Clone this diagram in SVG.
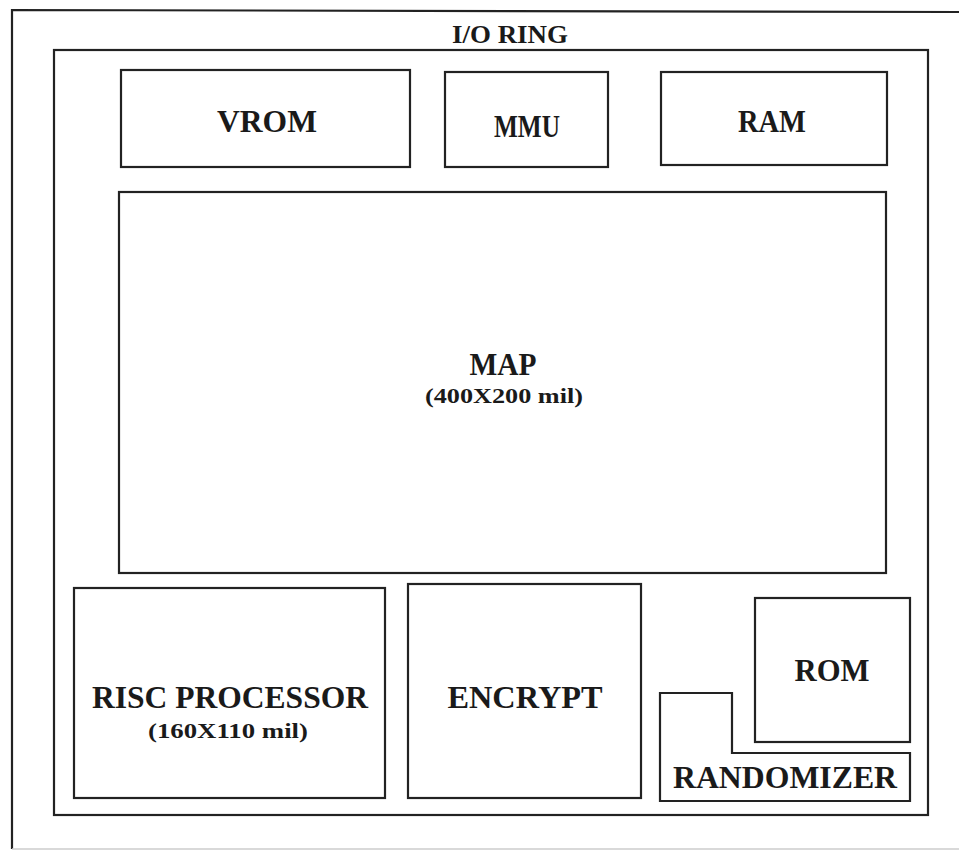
<svg xmlns="http://www.w3.org/2000/svg" width="959" height="851" viewBox="0 0 959 851">
<style>
.b{fill:none;stroke:#222;stroke-width:2.2}
.t{font-family:"Liberation Serif","Times New Roman","DejaVu Serif",serif;font-weight:bold;fill:#1a1a1a;text-anchor:middle}
.l{font-size:31px}
.s{font-size:22px}
</style>
<rect width="959" height="851" fill="#fff"/>
<g id="io_ring">
<path class="b" d="M12,849 L12,10 L959,12"/>
<line x1="12" y1="849" x2="959" y2="849" stroke="#ccc" stroke-width="1.5"/>
<text class="t" x="510" y="43" style="font-size:25px" textLength="116" lengthAdjust="spacingAndGlyphs">I/O RING</text>
</g>
<g id="core">
<rect class="b" x="54" y="50" width="874" height="765"/>
</g>
<g id="vrom">
<rect class="b" x="121" y="70" width="289" height="97"/>
<text class="t l" x="267" y="132" textLength="100" lengthAdjust="spacingAndGlyphs">VROM</text>
</g>
<g id="mmu">
<rect class="b" x="445" y="72" width="163" height="95"/>
<text class="t l" x="527" y="137" textLength="66" lengthAdjust="spacingAndGlyphs">MMU</text>
</g>
<g id="ram">
<rect class="b" x="661" y="72" width="226" height="93"/>
<text class="t l" x="772" y="132" textLength="68" lengthAdjust="spacingAndGlyphs">RAM</text>
</g>
<g id="map">
<rect class="b" x="119" y="192" width="767" height="381"/>
<text class="t l" x="503" y="375" textLength="67" lengthAdjust="spacingAndGlyphs">MAP</text>
<text class="t s" x="504" y="403" textLength="158" lengthAdjust="spacingAndGlyphs">(400X200 mil)</text>
</g>
<g id="risc">
<rect class="b" x="74" y="588" width="311" height="210"/>
<text class="t l" x="230" y="708" textLength="276" lengthAdjust="spacingAndGlyphs">RISC PROCESSOR</text>
<text class="t s" x="228" y="738" textLength="160" lengthAdjust="spacingAndGlyphs">(160X110 mil)</text>
</g>
<g id="encrypt">
<rect class="b" x="408" y="584" width="233" height="214"/>
<text class="t l" x="525" y="708" textLength="155" lengthAdjust="spacingAndGlyphs">ENCRYPT</text>
</g>
<g id="rom">
<rect class="b" x="755" y="598" width="155" height="144"/>
<text class="t l" x="832" y="681" textLength="75" lengthAdjust="spacingAndGlyphs">ROM</text>
</g>
<g id="randomizer">
<path class="b" d="M660,693 L732,693 L732,753 L910,753 L910,801 L660,801 Z"/>
<text class="t l" x="785" y="788" textLength="224" lengthAdjust="spacingAndGlyphs">RANDOMIZER</text>
</g>
<g id="connectors"></g>
</svg>
